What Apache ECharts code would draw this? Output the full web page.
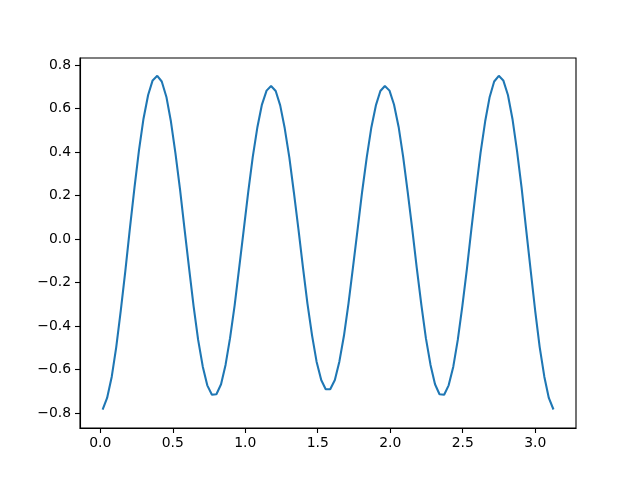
<!DOCTYPE html>
<html>
<head>
<meta charset="utf-8">
<script src="https://cdn.jsdelivr.net/npm/echarts@6/dist/echarts.min.js"></script>
<style>html,body{margin:0;padding:0;background:#fff}#c{width:640px;height:480px}</style>
</head>
<body>
<div id="c"></div>
<script>
var xs = [0.016,0.047,0.079,0.110,0.141,0.173,0.204,0.236,0.267,0.298,
0.330,0.361,0.393,0.424,0.456,0.487,0.518,0.550,0.581,0.613,
0.644,0.675,0.707,0.738,0.770,0.801,0.833,0.864,0.895,0.927,
0.958,0.990,1.021,1.052,1.084,1.115,1.147,1.178,1.210,1.241,
1.272,1.304,1.335,1.367,1.398,1.429,1.461,1.492,1.524,1.555,
1.586,1.618,1.649,1.681,1.712,1.743,1.775,1.806,1.838,1.869,
1.901,1.932,1.963,1.995,2.026,2.058,2.089,2.120,2.152,2.183,
2.215,2.246,2.278,2.309,2.340,2.372,2.403,2.435,2.466,2.497,
2.529,2.560,2.592,2.623,2.655,2.686,2.717,2.749,2.780,2.812,
2.843,2.874,2.906,2.937,2.969,3.000,3.031,3.063,3.094,3.126];
var ys = [-0.784,-0.731,-0.633,-0.497,-0.330,-0.145,0.048,0.237,0.408,0.553,
0.662,0.729,0.750,0.724,0.653,0.541,0.396,0.228,0.046,-0.137,
-0.311,-0.464,-0.587,-0.673,-0.716,-0.714,-0.668,-0.579,-0.456,-0.304,
-0.133,0.045,0.219,0.379,0.515,0.618,0.682,0.703,0.680,0.614,
0.510,0.375,0.216,0.044,-0.131,-0.297,-0.444,-0.564,-0.648,-0.691,
-0.691,-0.648,-0.564,-0.444,-0.297,-0.131,0.044,0.216,0.375,0.510,
0.614,0.680,0.703,0.682,0.618,0.515,0.379,0.219,0.045,-0.133,
-0.304,-0.456,-0.579,-0.668,-0.714,-0.716,-0.673,-0.587,-0.464,-0.311,
-0.137,0.046,0.228,0.396,0.541,0.653,0.724,0.750,0.729,0.662,
0.553,0.408,0.237,0.048,-0.145,-0.330,-0.497,-0.633,-0.731,-0.784];
var xTicks = [0.0,0.5,1.0,1.5,2.0,2.5,3.0];
var yTicks = [-0.8,-0.6,-0.4,-0.2,0.0,0.2,0.4,0.6,0.8];

var pts = xs.map(function(x,i){return [x, ys[i]];});
function fmt(v){ var s = Number(v).toFixed(1); return s.replace('-', '\u2212'); }
var font = 'DejaVu Sans';
var chart = echarts.init(document.getElementById('c'), null, {renderer:'canvas'});
chart.setOption({
  animation:false,
  backgroundColor:'#fff',
  grid:{left:80, right:64, top:58, bottom:52, show:true, borderColor:'#000', borderWidth:1.1, backgroundColor:'transparent'},
  xAxis:{type:'value', min:-0.140, max:3.2815,
    axisLine:{show:true, onZero:false, lineStyle:{color:'#000', width:1.1}},
    axisTick:{show:true, inside:false, length:5, lineStyle:{color:'#000', width:1.1}, customValues:xTicks},
    axisLabel:{color:'#000', fontFamily:font, fontSize:13.9, margin:8, customValues:xTicks, formatter:fmt},
    splitLine:{show:false}},
  yAxis:{type:'value', min:-0.869, max:0.832,
    axisLine:{show:true, onZero:false, lineStyle:{color:'#000', width:1.1}},
    axisTick:{show:true, inside:false, length:5, lineStyle:{color:'#000', width:1.1}, customValues:yTicks},
    axisLabel:{color:'#000', fontFamily:font, fontSize:13.9, margin:9, customValues:yTicks, formatter:fmt},
    splitLine:{show:false}},
  series:[{type:'line', data:pts, showSymbol:false, symbol:'none', smooth:false,
    lineStyle:{color:'#1f77b4', width:2.08}, clip:true}]
});
</script>
</body>
</html>
